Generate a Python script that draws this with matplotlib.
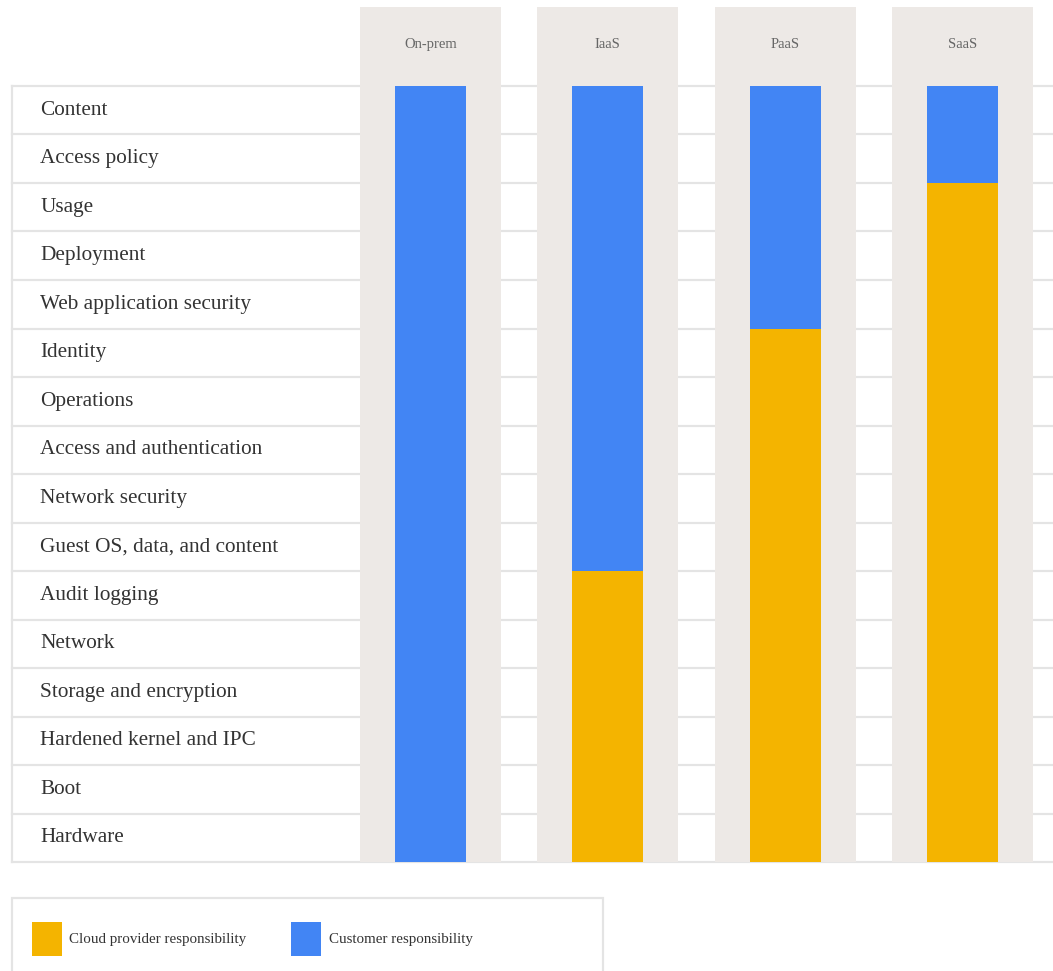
import matplotlib.pyplot as plt
from matplotlib.patches import Rectangle, Patch
import numpy as np

# 数据
rows = ["Content", "Access policy", "Usage", "Deployment", "Web application security",
        "Identity", "Operations", "Access and authentication", "Network security",
        "Guest OS, data, and content", "Audit logging", "Network", "Storage and encryption",
        "Hardened kernel and IPC", "Boot", "Hardware"]
models = ["On-prem", "IaaS", "PaaS", "SaaS"]
# 每种模式下由云服务商负责的层数（自底向上）
provider_rows = [0, 6, 11, 14]
customer_rows = [16 - n for n in provider_rows]

c_provider = "#F4B400"
c_customer = "#4285F4"
c_panel = "#EDE9E6"
c_line = "#E4E4E4"

plt.rcParams['font.family'] = ['Liberation Serif', 'DejaVu Serif']

fig = plt.figure(figsize=(10.53, 9.71), dpi=100)
ax = fig.add_axes([0, 0, 1, 1])
n = len(rows)
x = np.arange(len(models))
ax.set_xlim(-2.4276, 3.510)
ax.set_ylim(-2.247, 17.773)
ax.axis("off")

# 行分隔线
for i in range(n + 1):
    ax.plot([-2.36, 3.51], [i, i], color=c_line, lw=1.6, zorder=1)
ax.plot([-2.36, -2.36], [0, n], color=c_line, lw=1.6, zorder=1)

# 行标签
for i, name in enumerate(rows):
    ax.text(-2.2, n - i - 0.5, name, fontsize=15.3, color="#333333",
            va="center", ha="left", zorder=3)

# 灰色背景柱
ax.bar(x, [n + 1.62] * len(x), width=0.795, color=c_panel, zorder=2)
for xi, m in zip(x, models):
    ax.text(xi, n + 0.85, m, fontsize=10.5, color="#666666", ha="center",
            va="center", zorder=3)

# 堆叠柱
ax.bar(x, provider_rows, width=0.40, color=c_provider, zorder=3)
ax.bar(x, customer_rows, bottom=provider_rows, width=0.40, color=c_customer, zorder=3)

# 图例
box = Rectangle((12 / 1053, -10 / 971), 591 / 1053, 83 / 971, transform=ax.transAxes,
                facecolor="white", edgecolor=c_line, lw=1.6, zorder=2)
ax.add_patch(box)
handles = [Patch(facecolor=c_provider, label="Cloud provider responsibility"),
           Patch(facecolor=c_customer, label="Customer responsibility")]
leg = ax.legend(handles=handles, ncol=2, loc="center left",
                bbox_to_anchor=(18 / 1053, 32 / 971), frameon=False,
                fontsize=10.8, handlelength=2.0, handleheight=3.2,
                handletextpad=0.5, columnspacing=3.0)
for t in leg.get_texts():
    t.set_color("#333333")

plt.savefig("out.png", dpi=100)
